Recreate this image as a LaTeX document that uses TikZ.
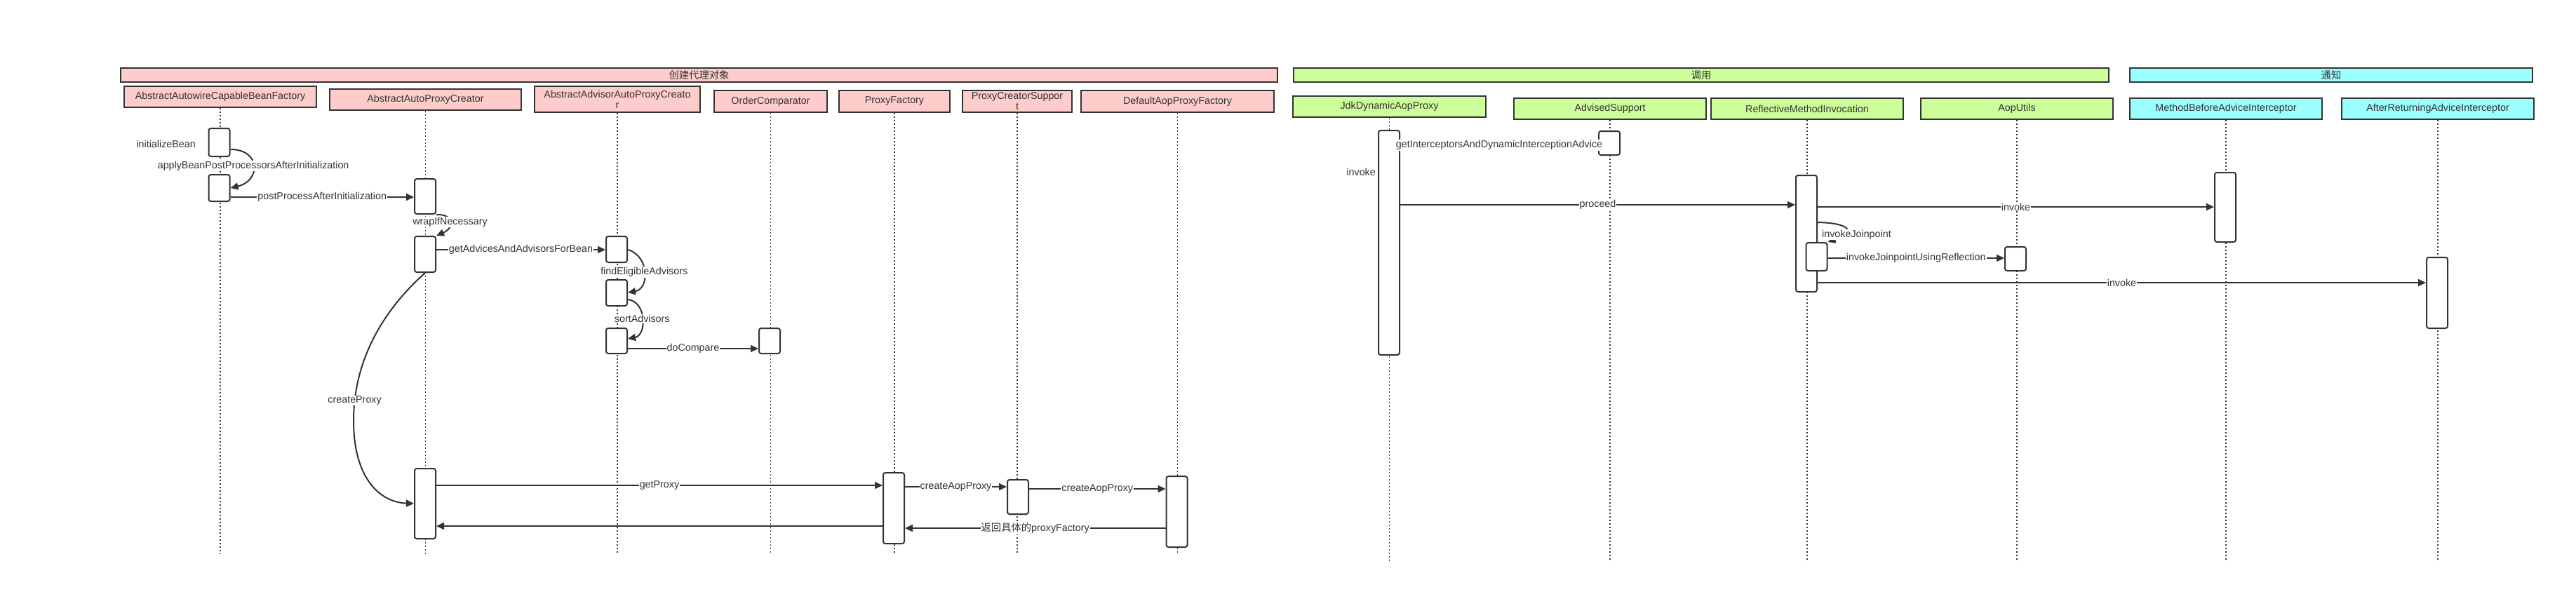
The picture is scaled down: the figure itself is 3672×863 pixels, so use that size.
\documentclass[tikz,border=0pt]{standalone}
\usepackage{fontspec}
\setmainfont{Liberation Sans}
\newfontfamily\cjk{Noto Sans CJK SC}
\usepackage{tikz}
\usetikzlibrary{arrows.meta}
\definecolor{lc}{HTML}{333333}
\definecolor{pinkc}{HTML}{FFCCCC}
\definecolor{greenc}{HTML}{CCFF99}
\definecolor{cyanc}{HTML}{99FFFF}

\begin{document}
\begin{tikzpicture}[x=1pt,y=-1pt,
    every node/.style={font=\fontsize{14.3}{15}\selectfont, text=lc},
    band/.style={draw=lc, line width=2pt, minimum height=20pt, inner sep=0pt, anchor=north west},
    hdr/.style={draw=lc, line width=2pt, inner sep=0pt, anchor=north west, align=center},
    act/.style={draw=lc, line width=2pt, fill=white, rounded corners=3pt, minimum width=30pt, inner sep=0pt},
    life/.style={draw=lc, line width=1.6pt, dash pattern=on 2pt off 3pt},
    msg/.style={draw=lc, line width=2pt, -{Triangle[length=11pt,width=10pt]}},
    lbl/.style={fill=white, inner sep=1pt}]
      \useasboundingbox (0,0) rectangle (3672,863);

      \node[band, fill=pinkc, minimum width=1649pt] (create) at (171,96) {\cjk 创建代理对象};
      \node[band, fill=greenc, minimum width=1162pt] (call) at (1843,96) {\cjk 调用};
      \node[band, fill=cyanc, minimum width=574pt] (advice) at (3035,96) {\cjk 通知};

      \node[hdr, fill=pinkc, minimum width=274pt, minimum height=30pt] (abf) at (176,122) {AbstractAutowireCapableBeanFactory};
      \node[hdr, fill=pinkc, minimum width=273pt, minimum height=30pt] (aapc) at (469,126) {AbstractAutoProxyCreator};
      \node[hdr, fill=pinkc, minimum width=236pt, minimum height=37pt] (aaapc) at (761,122) {AbstractAdvisorAutoProxyCreato\\r};
      \node[hdr, fill=pinkc, minimum width=161pt, minimum height=31pt] (oc) at (1017,128) {OrderComparator};
      \node[hdr, fill=pinkc, minimum width=158pt, minimum height=31pt] (pf) at (1195,128) {ProxyFactory};
      \node[hdr, fill=pinkc, minimum width=156pt, minimum height=31pt] (pcs) at (1371,128) {ProxyCreatorSuppor\\t};
      \node[hdr, fill=pinkc, minimum width=275pt, minimum height=31pt] (dapf) at (1540,128) {DefaultAopProxyFactory};
      \node[hdr, fill=greenc, minimum width=275pt, minimum height=30pt] (jdk) at (1842,136) {JdkDynamicAopProxy};
      \node[hdr, fill=greenc, minimum width=274pt, minimum height=30pt] (as) at (2157,139) {AdvisedSupport};
      \node[hdr, fill=greenc, minimum width=274pt, minimum height=30pt] (rmi) at (2438,139) {ReflectiveMethodInvocation};
      \node[hdr, fill=greenc, minimum width=274pt, minimum height=30pt] (au) at (2737,139) {AopUtils};
      \node[hdr, fill=cyanc, minimum width=274pt, minimum height=30pt] (mbai) at (3035,139) {MethodBeforeAdviceInterceptor};
      \node[hdr, fill=cyanc, minimum width=274pt, minimum height=30pt] (arai) at (3337,139) {AfterReturningAdviceInterceptor};

      \foreach \n in {abf,aapc,aaapc,oc,pf,pcs,dapf}
        \draw[life] (\n.south) -- (\n.south |- 0,790);
      \foreach \n in {jdk,as,rmi,au,mbai,arai}
        \draw[life] (\n.south) -- (\n.south |- 0,801);

      \node[act, minimum height=40pt] (a1) at (312.5,203) {};
      \node[act, minimum height=38pt] (a2) at (312.5,268) {};
      \node[act, minimum height=50pt] (b1) at (606,280) {};
      \node[act, minimum height=51pt] (b2) at (606,362.5) {};
      \node[act, minimum height=100pt] (b3) at (606,718) {};
      \node[act, minimum height=37pt] (c1) at (879,355.5) {};
      \node[act, minimum height=37pt] (c2) at (879,417.5) {};
      \node[act, minimum height=36pt] (c3) at (879,486) {};
      \node[act, minimum height=36pt] (d1) at (1097,486) {};
      \node[act, minimum height=101pt] (e1) at (1274,724.5) {};
      \node[act, minimum height=49pt] (f1) at (1451,708.5) {};
      \node[act, minimum height=101pt] (g1) at (1677.5,729.5) {};
      \node[act, minimum height=320pt] (h1) at (1980,346) {};
      \node[act, minimum height=34pt] (i1) at (2294,204) {};
      \node[act, minimum height=166pt] (j1) at (2575,333) {};
      \node[act, minimum height=40pt] (j2) at (2589.5,366) {};
      \node[act, minimum height=34pt] (k1) at (2873,369) {};
      \node[act, minimum height=99pt] (m1) at (3172,295.5) {};
      \node[act, minimum height=101pt] (n1) at (3474,417.5) {};

      \node[anchor=east, inner sep=0pt] (initbean) at (279,205) {initializeBean};
      \node[anchor=east, inner sep=0pt] (invoke) at (1961,245) {invoke};

      \draw[msg] (a1.east |- 0,213) .. controls (372,213) and (372,258) .. node[lbl] {applyBeanPostProcessorsAfterInitialization} (a2.east);
      \draw[msg] (a2.east |- 0,281) -- node[lbl] {postProcessAfterInitialization} (b1.west |- 0,281);
      \draw[msg] (b1.south east) .. controls (648,305) and (648,325) .. node[lbl] {wrapIfNecessary} (b2.north east);
      \draw[msg] (b2.east |- 0,356) -- node[lbl] {getAdvicesAndAdvisorsForBean} (c1.west |- 0,356);
      \draw[msg] (c1.east |- 0,356) .. controls (926,365) and (926,412) .. node[lbl] {findEligibleAdvisors} (c2.east |- 0,417);
      \draw[msg] (c2.east |- 0,427) .. controls (922,430) and (922,478) .. node[lbl] {sortAdvisors} (c3.east |- 0,483);
      \draw[msg] (c3.east |- 0,497) -- node[lbl] {doCompare} (d1.west |- 0,497);
      \draw[msg] (b2.south) .. controls (560,430) and (504,500) .. node[lbl, pos=0.9] {createProxy} (504,600)
        .. controls (504,680) and (540,716) .. (b3.west |- 0,718);
      \draw[msg] (b3.east |- 0,692) -- node[lbl] {getProxy} (e1.west |- 0,692);
      \draw[msg] (e1.west |- 0,750) -- (b3.east |- 0,750);
      \draw[msg] (e1.east |- 0,694) -- node[lbl] {createAopProxy} (f1.west |- 0,694);
      \draw[msg] (f1.east |- 0,697) -- node[lbl] {createAopProxy} (g1.west |- 0,697);
      \draw[msg] (g1.west |- 0,753) -- node[lbl] {{\cjk 返回具体的}proxyFactory} (e1.east |- 0,753);

      \draw[msg] (h1.east |- 0,207) -- node[lbl] {getInterceptorsAndDynamicInterceptionAdvice} (i1.west |- 0,207);
      \draw[msg] (h1.east |- 0,292) -- node[lbl] {proceed} (j1.west |- 0,292);
      \draw[msg] (j1.east |- 0,295) -- node[lbl] {invoke} (m1.west |- 0,295);
      \draw[msg] (j1.east |- 0,317) .. controls (2640,318) and (2645,332) .. node[lbl, xshift=15pt, yshift=-8pt] {invokeJoinpoint} (j2.north east);
      \draw[msg] (j2.east |- 0,368) -- node[lbl] {invokeJoinpointUsingReflection} (k1.west |- 0,368);
      \draw[msg] (j1.east |- 0,403) -- node[lbl] {invoke} (n1.west |- 0,403);
    \end{tikzpicture}
\end{document}
